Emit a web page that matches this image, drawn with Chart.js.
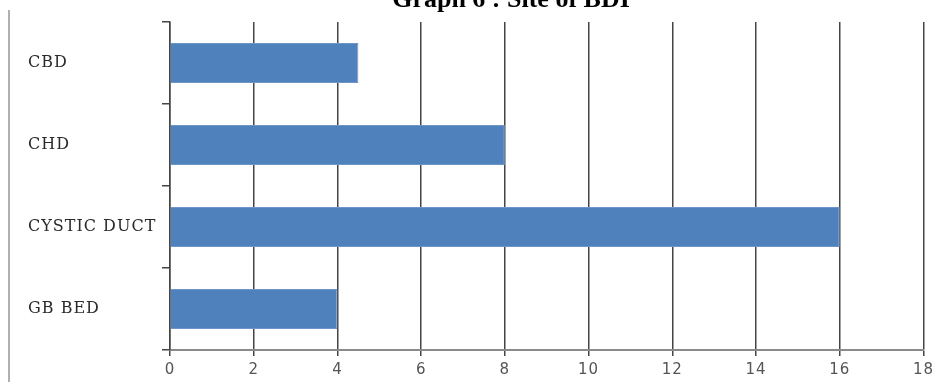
<!DOCTYPE html>
<html>
<head>
<meta charset="utf-8">
<script src="https://cdn.jsdelivr.net/npm/chart.js@4"></script>
<style>
  html, body { margin: 0; padding: 0; background: #fff; }
  #wrap { width: 938px; height: 382px; position: relative; }
</style>
</head>
<body>
<div id="wrap"><canvas id="c" width="938" height="382"></canvas></div>
<script>
// Site of bile duct injury
const categories = ['CBD', 'CHD', 'CYSTIC DUCT', 'GB BED'];
const counts = [4.5, 8, 16, 4];
const xTicks = [0, 2, 4, 6, 8, 10, 12, 14, 16, 18];
const titleText = 'Graph 6 : Site of BDI';

// Title (clipped at the top edge), the left frame line and wider label tracking
const decorations = {
  id: 'decorations',
  beforeDraw(chart) {
    chart.ctx.letterSpacing = '1px';
  },
  afterDraw(chart) {
    const ctx = chart.ctx;
    ctx.save();
    ctx.letterSpacing = '0px';
    ctx.strokeStyle = '#b0b0b0';
    ctx.lineWidth = 2;
    ctx.beginPath();
    ctx.moveTo(9, 10);
    ctx.lineTo(9, 382);
    ctx.stroke();
    ctx.fillStyle = '#000';
    ctx.font = 'bold 26px "Liberation Serif", serif';
    ctx.textAlign = 'center';
    ctx.textBaseline = 'alphabetic';
    ctx.fillText(titleText, 511, 7);
    ctx.restore();
  }
};

new Chart(document.getElementById('c'), {
  type: 'bar',
  data: {
    labels: categories,
    datasets: [{
      data: counts,
      backgroundColor: '#4f81bd',
      borderColor: '#6f96c8',
      borderWidth: 1,
      categoryPercentage: 0.49,
      barPercentage: 1
    }]
  },
  options: {
    indexAxis: 'y',
    responsive: false,
    animation: false,
    layout: { padding: { left: 28, right: 14, top: 22, bottom: 0 } },
    plugins: { legend: { display: false }, tooltip: { enabled: false }, title: { display: false } },
    scales: {
      x: {
        min: 0,
        max: 18,
        afterBuildTicks(axis) { axis.ticks = xTicks.map(v => ({ value: v })); },
        afterFit(axis) { axis.height = 32; },
        grid: {
          color: '#454545',
          lineWidth: 1.5,
          tickLength: 6,
          drawOnChartArea: true
        },
        border: { display: true, color: '#8a8a8a', width: 2 },
        ticks: {
          color: '#555',
          font: { family: '"DejaVu Sans", sans-serif', size: 15 },
          padding: 5
        }
      },
      y: {
        afterFit(axis) { axis.width = 142; },
        grid: {
          offset: true,
          drawOnChartArea: false,
          color: '#454545',
          lineWidth: 1.5,
          tickLength: 8
        },
        border: { display: true, color: '#454545', width: 1.5 },
        ticks: {
          crossAlign: 'far',
          color: '#2a2a2a',
          font: { family: '"DejaVu Serif", serif', size: 16 }
        }
      }
    }
  },
  plugins: [decorations]
});
</script>
</body>
</html>
